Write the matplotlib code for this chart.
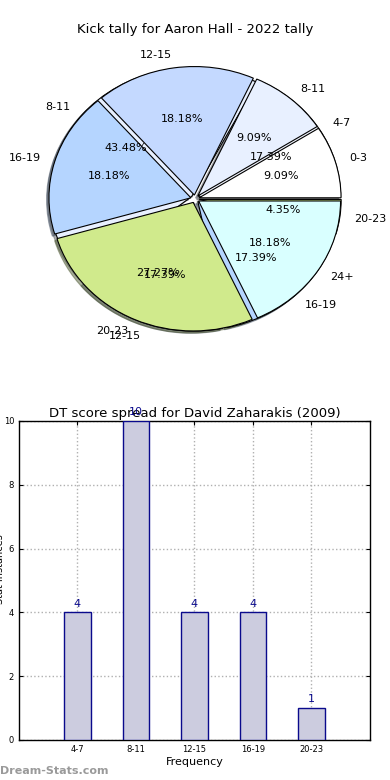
import matplotlib
matplotlib.use('Agg')
import matplotlib.pyplot as plt

# ── data ──────────────────────────────────────────────
pie_title = "Kick tally for Aaron Hall - 2022 tally"
kick_labels = ["0-3", "8-11", "12-15", "16-19", "20-23", "24+"]
kick_counts = [1, 1, 2, 2, 3, 2]

dt_labels = ["4-7", "8-11", "12-15", "16-19", "20-23"]
dt_counts = [4, 10, 4, 4, 1]
bar_title = "DT score spread for David Zaharakis (2009)"

# colour per score bucket
BUCKET_COLORS = {
    "0-3": "#ffffff",
    "4-7": "#f2f6ff",
    "8-11": "#e8f0ff",
    "12-15": "#c4d9ff",
    "16-19": "#b5d5ff",
    "20-23": "#d0ea8c",
    "24+": "#d9ffff",
}
NAVY = "#0a0a8c"
BAR_FACE = "#ccccdf"

fig = plt.figure(figsize=(3.9, 7.8), dpi=100, facecolor="white")

# ── pie (two tallies drawn over each other) ───────────────
# the original pie is slightly squashed vertically
ax1 = fig.add_axes([0.045, 0.539, 0.910, 0.412])
wp = {"edgecolor": "black", "linewidth": 0.8}
shadow = {"ox": -0.012, "oy": -0.012, "shade": 0.6}
ax1.pie(dt_counts, labels=dt_labels, autopct="%1.2f%%",
        colors=[BUCKET_COLORS[l] for l in dt_labels],
        explode=[0.03] * len(dt_counts), shadow=shadow, startangle=0,
        wedgeprops=wp, textprops={"fontsize": 8})
ax1.pie(kick_counts, labels=kick_labels, autopct="%1.2f%%",
        colors=[BUCKET_COLORS[l] for l in kick_labels],
        explode=[0.03] * len(kick_counts), shadow=shadow, startangle=0,
        wedgeprops=wp, textprops={"fontsize": 8})
ax1.set_aspect("auto")
ax1.set_xlim(-1.25, 1.25)
ax1.set_ylim(-1.25, 1.25)
fig.text(0.5, 1 - 30 / 780, pie_title, ha="center", va="center", fontsize=9.5)

# ── bar chart ───────────────────────────────────────────
ax2 = fig.add_axes([0.0487, 0.0513, 0.9, 0.409])
xs = list(range(1, len(dt_counts) + 1))
ax2.bar(xs, dt_counts, width=0.45, color=BAR_FACE, edgecolor=NAVY,
        linewidth=1, zorder=3)
for x, v in zip(xs, dt_counts):
    ax2.text(x, v + 0.12, str(v), ha="center", va="bottom", color=NAVY,
             fontsize=8, zorder=4)
ax2.set_xlim(0, len(dt_counts) + 1)
ax2.set_ylim(0, 10)
ax2.set_xticks(xs)
ax2.set_xticklabels(dt_labels)
ax2.set_yticks(range(0, 11, 2))
ax2.tick_params(direction="in", top=True, right=True, labelsize=6, length=3)
ax2.grid(True, linestyle=":", color="#b0b0b0", linewidth=1, zorder=0)
ax2.set_title(bar_title, fontsize=9.5, pad=3)
ax2.set_xlabel("Frequency", fontsize=8, labelpad=2)
for s in ax2.spines.values():
    s.set_linewidth(1)
fig.text(-0.012, 0.27, "Stat instances", rotation=90, ha="left",
         va="center", fontsize=7)

fig.text(0.0, 1 - 771 / 780, "Dream-Stats.com", ha="left", va="center",
         fontsize=8, color="#9a9a9a", fontweight="bold")

fig.savefig("out.png", dpi=100, facecolor="white")
